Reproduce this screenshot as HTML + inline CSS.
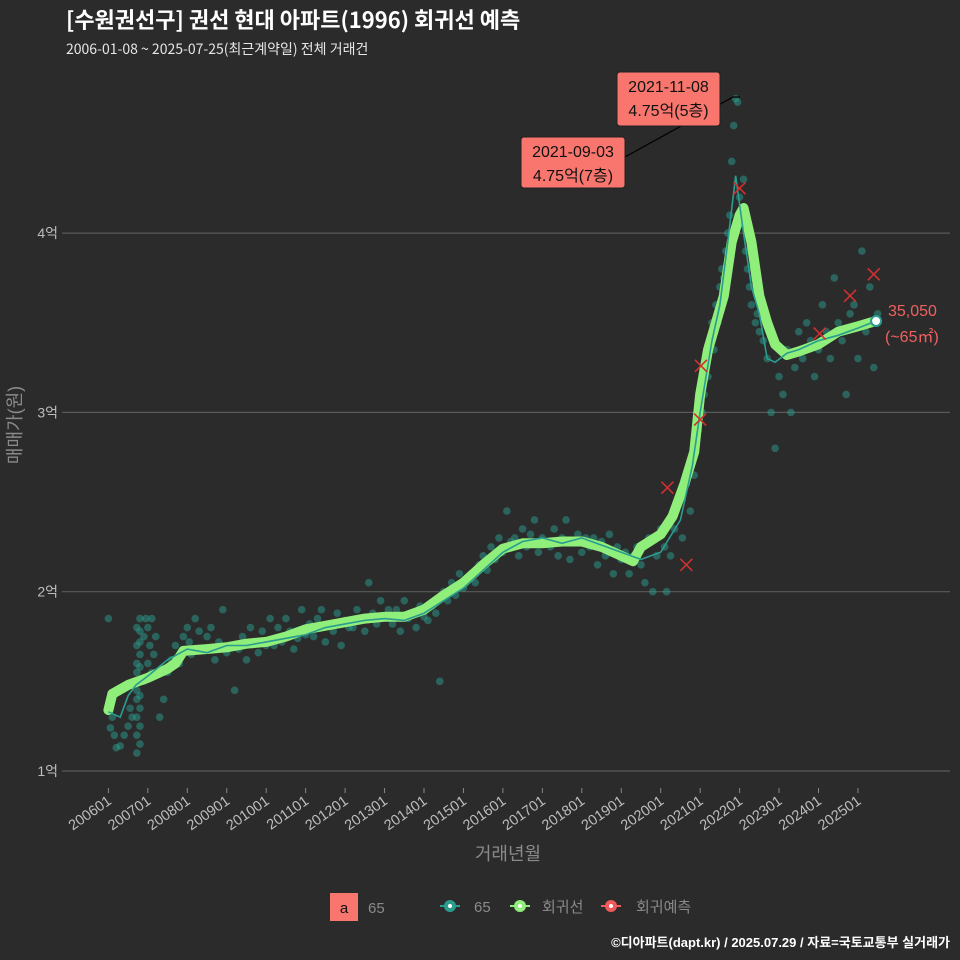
<!DOCTYPE html>
<html><head><meta charset="utf-8">
<style>
body{margin:0;background:#2b2b2b;}
svg{display:block;font-family:"Liberation Sans","Noto Sans CJK KR",sans-serif;}
</style></head>
<body>
<svg id="chart" width="960" height="960" viewBox="0 0 960 960" xmlns="http://www.w3.org/2000/svg">
<rect width="960" height="960" fill="#2b2b2b"/>
<text x="66" y="28" fill="#ffffff" font-size="22" font-weight="bold" font-family="Noto Sans CJK KR, sans-serif">[수원권선구] 권선 현대 아파트(1996) 회귀선 예측</text>
<text x="66" y="54" fill="#e6e6e6" font-size="14" font-family="Noto Sans CJK KR, sans-serif">2006-01-08 ~ 2025-07-25(최근계약일) 전체 거래건</text>
<g id="grid"></g>
<g id="yaxis"></g>
<g id="xaxis"></g>
<text transform="translate(21,425) rotate(-90)" text-anchor="middle" fill="#8a8a8a" font-size="18">매매가(원)</text>
<text x="508" y="860" text-anchor="middle" fill="#8a8a8a" font-size="18">거래년월</text>
<g id="points"></g>
<g id="lines"></g>
<g id="preds"></g>
<g id="annot"></g>
<g>
<rect x="330" y="893" width="28" height="28" fill="#f8766d"/>
<text x="344" y="913" text-anchor="middle" font-size="15" fill="#111">a</text>
<text x="368" y="913" font-size="15" fill="#8a8a8a">65</text>
<g><line x1="440" y1="906" x2="460" y2="906" stroke="#2a9d8f" stroke-width="2"/><circle cx="450" cy="906" r="6" fill="#2a9d8f"/><circle cx="450" cy="906" r="2" fill="#fff"/><text x="474" y="912" font-size="15" fill="#8a8a8a">65</text></g>
<g><line x1="510" y1="906" x2="530" y2="906" stroke="#90ee7a" stroke-width="2"/><circle cx="520" cy="906" r="6" fill="#90ee7a"/><circle cx="520" cy="906" r="2" fill="#fff"/><text x="542" y="912" font-size="15" fill="#8a8a8a">회귀선</text></g>
<g><line x1="601" y1="906" x2="621" y2="906" stroke="#f05a5a" stroke-width="2"/><circle cx="611" cy="906" r="6" fill="#f05a5a"/><circle cx="611" cy="906" r="2" fill="#fff"/><text x="636" y="912" font-size="15" fill="#8a8a8a">회귀예측</text></g>
</g>
<text x="950" y="947" text-anchor="end" font-size="13" font-weight="bold" fill="#ffffff">©디아파트(dapt.kr) / 2025.07.29 / 자료=국토교통부 실거래가</text>
</svg>
<script>
const yTicks=[1,2,3,4];
const yTickLabels=["1억","2억","3억","4억"];
const xTickYears=[2006,2007,2008,2009,2010,2011,2012,2013,2014,2015,2016,2017,2018,2019,2020,2021,2022,2023,2024,2025];
const xTickLabels=["200601","200701","200801","200901","201001","201101","201201","201301","201401","201501","201601","201701","201801","201901","202001","202101","202201","202301","202401","202501"];
const regT=[2006.0,2006.1,2006.5,2007.0,2007.5,2007.7,2007.9,2008.5,2009.0,2009.5,2010.0,2010.5,2011.0,2011.5,2012.0,2012.5,2013.0,2013.5,2014.0,2014.5,2015.0,2015.5,2016.0,2016.5,2017.0,2017.5,2018.0,2018.5,2019.0,2019.3,2019.5,2020.0,2020.3,2020.6,2020.85,2021.0,2021.2,2021.4,2021.6,2021.8,2022.0,2022.1,2022.3,2022.5,2022.7,2022.9,2023.2,2023.5,2024.0,2024.5,2025.0,2025.46];
const regV=[1.34,1.43,1.48,1.52,1.57,1.6,1.67,1.68,1.69,1.71,1.72,1.75,1.79,1.81,1.83,1.85,1.86,1.86,1.9,1.98,2.05,2.15,2.24,2.27,2.27,2.28,2.28,2.25,2.2,2.17,2.25,2.32,2.42,2.6,2.78,3.1,3.35,3.5,3.65,3.95,4.1,4.14,3.95,3.65,3.5,3.38,3.32,3.34,3.38,3.45,3.48,3.51];
const movT=[2006.0,2006.3,2006.5,2006.7,2007.0,2007.5,2008.0,2008.5,2009.0,2009.5,2010.0,2010.5,2011.0,2011.5,2012.0,2012.5,2013.0,2013.5,2014.0,2014.5,2015.0,2015.5,2016.0,2016.5,2017.0,2017.5,2018.0,2018.5,2019.0,2019.5,2020.0,2020.5,2020.8,2021.0,2021.3,2021.5,2021.7,2021.9,2022.1,2022.3,2022.5,2022.7,2022.9,2023.2,2023.5,2024.0,2024.5,2025.0,2025.46];
const movV=[1.33,1.3,1.42,1.48,1.53,1.62,1.68,1.66,1.7,1.7,1.72,1.74,1.76,1.8,1.82,1.84,1.85,1.84,1.88,1.95,2.02,2.12,2.22,2.28,2.3,2.27,2.3,2.26,2.22,2.18,2.22,2.4,2.7,3.0,3.4,3.6,3.95,4.32,4.0,3.7,3.55,3.3,3.28,3.33,3.35,3.4,3.43,3.47,3.51];
const predT=[2020.17,2020.65,2021.0,2021.02,2022.0,2024.03,2024.8,2025.4];
const predV=[2.58,2.15,2.96,3.26,4.25,3.44,3.65,3.77];
const ptT=[
2006.0,2006.05,2006.1,2006.15,2006.2,2006.3,2006.4,2006.5,2006.55,2006.6,
2006.72,2006.72,2006.72,2006.72,2006.72,2006.72,2006.72,2006.72,2006.72,2006.72,
2006.8,2006.8,2006.8,2006.8,2006.8,2006.8,2006.8,2006.8,2006.8,2006.8,
2006.9,2006.9,2006.95,2007.0,2007.0,2007.05,2007.1,2007.1,2007.15,2007.2,
2007.3,2007.4,2007.5,2007.6,2007.7,2007.8,2007.9,2008.0,2008.05,2008.1,
2008.2,2008.3,2008.4,2008.5,2008.6,2008.7,2008.8,2008.9,2009.0,2009.1,
2009.2,2009.3,2009.4,2009.5,2009.6,2009.7,2009.8,2009.9,2010.0,2010.1,
2010.2,2010.3,2010.4,2010.5,2010.6,2010.7,2010.8,2010.9,2011.0,2011.1,
2011.2,2011.3,2011.4,2011.5,2011.6,2011.7,2011.8,2011.9,2012.0,2012.1,
2012.2,2012.3,2012.4,2012.5,2012.6,2012.7,2012.8,2012.9,2013.0,2013.1,
2013.2,2013.3,2013.4,2013.5,2013.6,2013.7,2013.8,2013.9,2014.0,2014.1,
2014.2,2014.3,2014.4,2014.5,2014.6,2014.7,2014.8,2014.9,2015.0,2015.1,
2015.2,2015.3,2015.4,2015.5,2015.6,2015.7,2015.8,2015.9,2016.0,2016.1,
2016.2,2016.3,2016.4,2016.5,2016.6,2016.7,2016.8,2016.9,2017.0,2017.1,
2017.2,2017.3,2017.4,2017.5,2017.6,2017.7,2017.8,2017.9,2018.0,2018.1,
2018.2,2018.3,2018.4,2018.5,2018.6,2018.7,2018.8,2018.9,2019.0,2019.1,
2019.2,2019.3,2019.4,2019.5,2019.6,2019.7,2019.8,2019.9,2020.0,2020.1,
2020.15,2020.25,2020.35,2020.45,2020.55,2020.65,2020.75,2020.85,2020.95,2021.05,
2021.1,2021.15,2021.2,2021.25,2021.3,2021.35,2021.4,2021.45,2021.5,2021.55,
2021.6,2021.65,2021.7,2021.75,2021.8,2021.85,2021.9,2021.95,2022.0,2022.05,
2022.1,2022.15,2022.2,2022.25,2022.3,2022.35,2022.4,2022.45,2022.5,2022.55,
2022.6,2022.7,2022.8,2022.9,2023.0,2023.1,2023.2,2023.3,2023.4,2023.5,
2023.6,2023.7,2023.8,2023.9,2024.0,2024.1,2024.2,2024.3,2024.4,2024.5,
2024.6,2024.7,2024.8,2024.9,2025.0,2025.1,2025.2,2025.3,2025.4,2025.5];
const ptV=[
1.85,1.24,1.3,1.2,1.13,1.14,1.2,1.25,1.35,1.3,
1.1,1.2,1.3,1.4,1.45,1.5,1.55,1.6,1.7,1.8,
1.15,1.25,1.35,1.42,1.5,1.58,1.65,1.72,1.78,1.85,
1.5,1.75,1.85,1.6,1.8,1.7,1.55,1.85,1.65,1.75,
1.3,1.4,1.55,1.62,1.7,1.6,1.75,1.8,1.72,1.65,
1.85,1.78,1.68,1.75,1.8,1.62,1.72,1.9,1.66,1.7,
1.45,1.68,1.75,1.62,1.8,1.72,1.66,1.78,1.7,1.85,
1.7,1.8,1.72,1.85,1.78,1.68,1.74,1.9,1.76,1.82,
1.75,1.85,1.9,1.72,1.82,1.78,1.88,1.7,1.84,1.8,
1.8,1.9,1.85,1.78,2.05,1.88,1.82,1.95,1.86,1.9,
1.82,1.9,1.78,1.95,1.85,1.88,1.8,1.92,1.86,1.84,
1.92,1.88,1.5,2.0,1.95,2.05,1.98,2.1,2.02,2.08,
2.1,2.05,2.15,2.2,2.12,2.25,2.18,2.3,2.22,2.45,
2.28,2.3,2.2,2.35,2.25,2.32,2.4,2.22,2.3,2.27,
2.25,2.35,2.2,2.3,2.4,2.18,2.28,2.32,2.22,2.3,
2.25,2.3,2.15,2.28,2.2,2.32,2.1,2.25,2.18,2.22,
2.1,2.2,2.25,2.15,2.05,2.3,2.0,2.2,2.35,2.25,
2.0,2.2,2.35,2.5,2.3,2.6,2.45,2.65,2.9,3.0,
3.1,3.3,3.2,3.4,3.5,3.35,3.6,3.5,3.7,3.8,
3.75,3.9,4.0,4.1,4.4,4.6,4.75,4.73,4.2,4.05,
4.3,3.9,3.8,3.7,3.6,3.75,3.5,3.55,3.45,3.6,
3.4,3.3,3.0,2.8,3.2,3.1,3.35,3.0,3.25,3.45,
3.3,3.5,3.4,3.2,3.35,3.6,3.45,3.3,3.75,3.5,
3.4,3.1,3.55,3.6,3.3,3.9,3.45,3.7,3.25,3.55];

const X=t=>108.4+(t-2006)*39.45;
const Y=v=>771-(v-1)*179.3;
const NS="http://www.w3.org/2000/svg";
function mk(tag,attrs,parent){const e=document.createElementNS(NS,tag);for(const k in attrs)e.setAttribute(k,attrs[k]);parent.appendChild(e);return e;}
const grid=document.getElementById('grid'),ya=document.getElementById('yaxis'),xa=document.getElementById('xaxis');
yTicks.forEach((v,i)=>{
  const l=mk('line',{x1:62,x2:950,y1:Y(v),y2:Y(v),stroke:'#5a5a5a','stroke-width':1.2},grid);
  
  
  const t=mk('text',{x:58,y:Y(v)+5,'text-anchor':'end',fill:'#bdbdbd','font-size':14},ya);
  
  
  t.textContent=yTickLabels[i];
});
xTickYears.forEach((yr,i)=>{
  const x=X(yr);
  const tk=mk('line',{x1:x,x2:x,y1:788,y2:793,stroke:'#888'},xa);
  
  
  const t=mk('text',{x:x+4,y:803,'text-anchor':'end',fill:'#bdbdbd','font-size':14.5,transform:`rotate(-35 ${x+4} 803)`},xa);
  
  
  t.textContent=xTickLabels[i];
});
const pg=document.getElementById('points');
ptT.forEach((t,i)=>{
  const c=mk('circle',{cx:X(t),cy:Y(ptV[i]),r:3.8,fill:'#2a9d8f','fill-opacity':0.5},pg);
  
  
});
const lg=document.getElementById('lines');
const reg=mk('polyline',{points:regT.map((t,i)=>X(t)+','+Y(regV[i])).join(' '),fill:'none',stroke:'#90ee7a','stroke-width':10,'stroke-linejoin':'round','stroke-linecap':'round'},lg);


const mv=mk('polyline',{points:movT.map((t,i)=>X(t)+','+Y(movV[i])).join(' '),fill:'none',stroke:'#2a9d8f','stroke-width':1.6},lg);


const pr=document.getElementById('preds');
predT.forEach((t,i)=>{
  const x=X(t),y=Y(predV[i]);
  const g=mk('path',{d:`M${x-6},${y-6}L${x+6},${y+6}M${x-6},${y+6}L${x+6},${y-6}`,stroke:'#d03030','stroke-width':1.6},pr);
  
  
});
const an=document.getElementById('annot');
const lastT=regT[regT.length-1],lastV=regV[regV.length-1];
const ep=mk('circle',{cx:X(lastT),cy:Y(lastV),r:5,fill:'#fff',stroke:'#2a9d8f','stroke-width':2},an);


const l1=mk('text',{x:888,y:316,fill:'#f06060','font-size':16},an);


l1.textContent='35,050';
const l2=mk('text',{x:885,y:342,fill:'#f06060','font-size':16},an);


l2.textContent='(~65㎡)';
const c1=mk('path',{d:'M683,125 L733,97 L740,97',stroke:'#000','stroke-width':1.2,fill:'none'},an);


const c2=mk('path',{d:'M625,157 L683,125',stroke:'#000','stroke-width':1.2,fill:'none'},an);


[[617,72,103,54,'2021-11-08','4.75억(5층)','max-price-annotation-1'],[521,137,104,51,'2021-09-03','4.75억(7층)','max-price-annotation-2']].forEach(a=>{
  const g=mk('g',{},an);
  
  
  mk('rect',{x:a[0],y:a[1],width:a[2],height:a[3],rx:3,fill:'#f8766d',stroke:'#222','stroke-width':1},g);
  const t1=mk('text',{x:a[0]+a[2]/2,y:a[1]+20,'text-anchor':'middle','font-size':16,fill:'#111'},g);t1.textContent=a[4];
  const t2=mk('text',{x:a[0]+a[2]/2,y:a[1]+44,'text-anchor':'middle','font-size':16,fill:'#111'},g);t2.textContent=a[5];
});
</script>
</body></html>
